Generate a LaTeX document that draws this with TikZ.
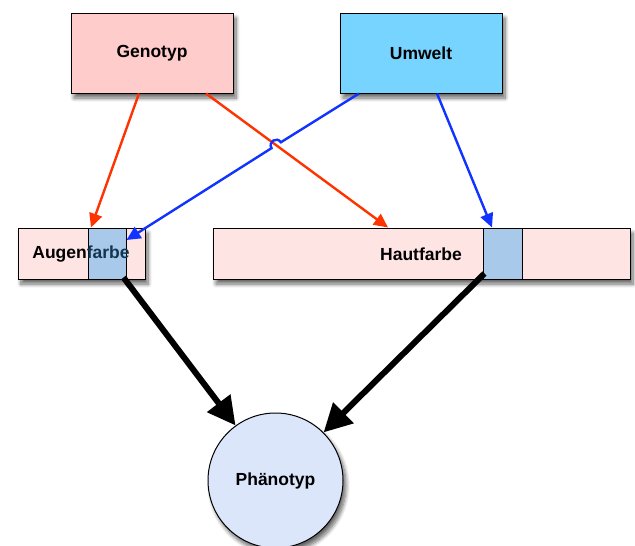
\documentclass[tikz,border=0pt]{standalone}
\usepackage{fontspec}
\setmainfont{Liberation Sans}
\usetikzlibrary{arrows.meta,shadows.blur}
\definecolor{genofill}{HTML}{FFCCCC}
\definecolor{umfill}{HTML}{77D4FF}
\definecolor{barfill}{HTML}{FFE4E4}
\definecolor{segfill}{HTML}{A9C9EA}
\definecolor{phenofill}{HTML}{DCE6FB}
\definecolor{redline}{HTML}{FF3300}
\definecolor{blueline}{HTML}{1133FF}
\tikzset{
  shad/.style={blur shadow={shadow xshift=3pt, shadow yshift=-5pt, shadow blur radius=4pt, shadow blur steps=8, shadow opacity=60}},
  box/.style={draw=black, line width=1pt, rectangle, inner sep=0pt, shad},
  bar/.style={draw=black, line width=1pt, rectangle, fill=barfill, inner sep=0pt, minimum height=51pt, shad},
  seg/.style={draw=black, line width=1pt, rectangle, fill=segfill, inner sep=0pt, minimum height=51pt, minimum width=38pt},
  lbl/.style={font=\fontsize{17.5}{21}\selectfont\bfseries, inner sep=0pt},
  redarr/.style={draw=redline, line width=2.4pt, -{Triangle[length=14pt,width=13pt]}},
  bluearr/.style={draw=blueline, line width=2.4pt, -{Triangle[length=14pt,width=13pt]}},
  blackarr/.style={draw=black, line width=6pt, -{Triangle[length=28pt,width=28pt]}},
}
\begin{document}
\begin{tikzpicture}[x=1pt,y=-1pt]
\useasboundingbox (0,0) rectangle (635,546);
% top boxes
\node[box, fill=genofill, minimum width=162pt, minimum height=80pt] (geno) at (152,53) {};
\node[lbl] (genol) at (152,53) {Genotyp};
\node[box, fill=umfill, minimum width=162pt, minimum height=80pt] (um) at (421,53) {};
\node[lbl] (uml) at (421,53) {Umwelt};
% bars
\node[bar, minimum width=127pt] (aug) at (81.5,253.5) {};
\node[seg] (aseg) at (107,253.5) {};
\node[lbl] (augl) at (81,254) {Augen\textcolor[HTML]{123550}{farbe}};
\node[bar, minimum width=417pt] (haut) at (421.5,253.5) {};
\node[seg, minimum width=39pt] (hseg) at (502.5,253.5) {};
\node[lbl] (hautl) at (421,254) {Hautfarbe};
% phenotype
\node[circle, draw=black, line width=1pt, fill=phenofill, minimum size=135pt, inner sep=0pt, shad] (pheno) at (275.5,480.5) {};
\node[lbl] (phenol) at (275.5,481) {Phänotyp};
% jump coordinates
\coordinate (ja) at (280.85,142.27);
\coordinate (jb) at (271.55,148.13);
% connectors
\draw[redarr] ([xshift=-13pt]geno.south) -- ([xshift=9.5pt]aug.north);
\draw[redarr] ([xshift=54pt]geno.south) -- ([xshift=-33.5pt]haut.north);
\draw[bluearr] ([xshift=-62pt]um.south) -- (ja) .. controls (276.95,136.1) and (267.65,141.96) .. (jb) -- ([yshift=13.5pt]aseg.east);
\draw[bluearr] ([xshift=16pt]um.south) -- ([xshift=-10.5pt]hseg.north);
\draw[blackarr] ([xshift=-3pt,yshift=2pt]aseg.south east) -- (pheno.126);
\draw[blackarr] ([xshift=2pt,yshift=6pt]hseg.south west) -- (pheno.45);
\end{tikzpicture}
\end{document}
